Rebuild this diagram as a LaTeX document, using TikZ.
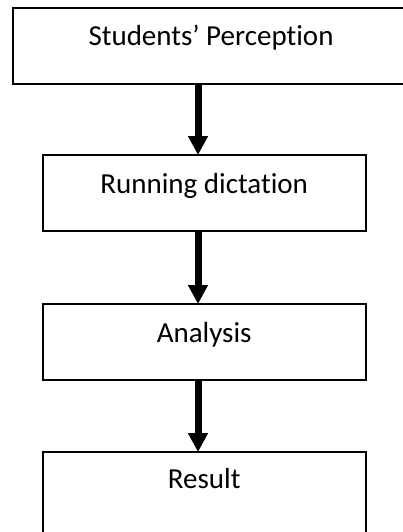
\documentclass[tikz,border=0pt]{standalone}
\usepackage{fontspec}
\setmainfont{Carlito}[Ligatures={NoCommon,NoRare,NoContextual}]
\usetikzlibrary{arrows.meta}
\begin{document}
\begin{tikzpicture}[x=1pt,y=-1pt,
  box/.style={draw=black, line width=1.8pt, inner sep=0pt, outer sep=0pt, anchor=north west},
  lbl/.style={anchor=base, inner sep=0pt, font=\fontsize{29}{34}\selectfont},
  flow/.style={line width=7pt, -{Triangle[width=19pt,length=19pt]}}
]
\useasboundingbox (0,0) rectangle (403,532);
\node[box, minimum width=396.3pt, minimum height=75.7pt] (b1) at (12.7,8.3) {};
\node[box, minimum width=323pt, minimum height=76pt] (b2) at (42.7,155) {};
\node[box, minimum width=323pt, minimum height=76pt] (b3) at (42.7,304) {};
\node[box, minimum width=323pt, minimum height=95pt] (b4) at (42.7,452) {};
\node[lbl] (t1) at (211,46) {Students’ Percep{}tion};
\node[lbl] (t2) at (204.2,193) {Running dicta{}t{}ion};
\node[lbl] (t3) at (204.2,342) {Analysis};
\node[lbl] (t4) at (204.2,488) {Result};
\coordinate (ax) at (198,0);
\draw[flow] (b1.south -| ax) -- (b2.north -| ax);
\draw[flow] (b2.south -| ax) -- (b3.north -| ax);
\draw[flow] (b3.south -| ax) -- (b4.north -| ax);
\end{tikzpicture}
\end{document}
